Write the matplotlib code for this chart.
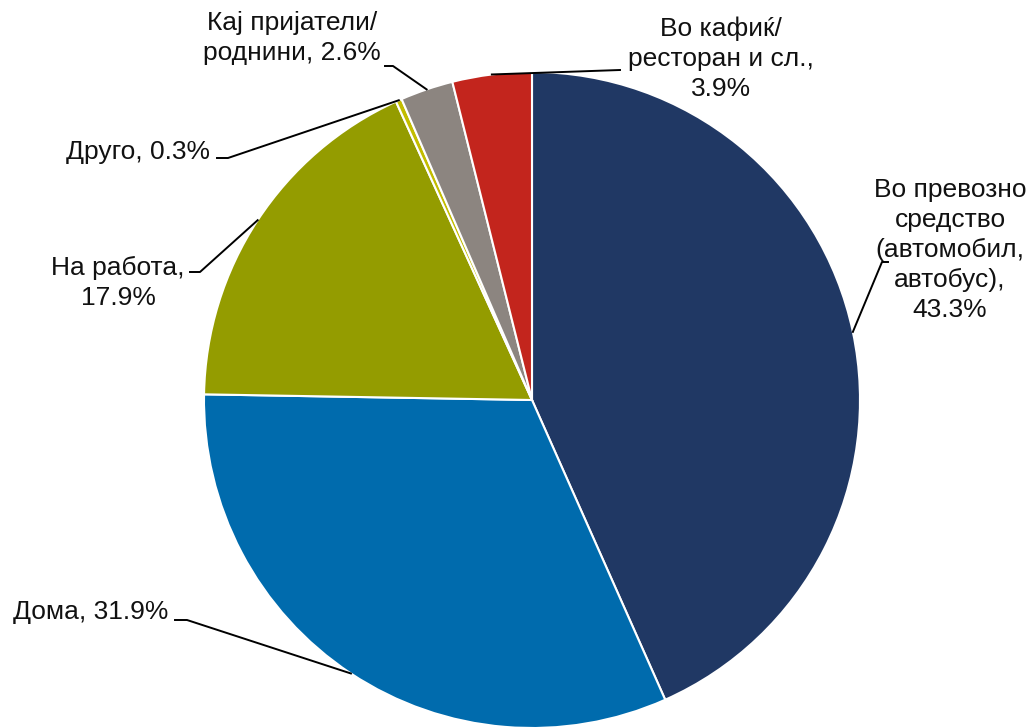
import numpy as np
import matplotlib.pyplot as plt

plt.rcParams['font.family'] = ['Liberation Sans', 'DejaVu Sans']

# податоци
labels = ['Во превозно\nсредство\n(автомобил,\nавтобус),\n43.3%',
          'Дома, 31.9%',
          'На работа,\n17.9%',
          'Друго, 0.3%',
          'Кај пријатели/\nроднини, 2.6%',
          'Во кафиќ/\nресторан и сл.,\n3.9%']
values = [43.3, 31.9, 17.9, 0.3, 2.6, 3.9]
colors = ['#203864', '#006BAD', '#949C00', '#C2BC00', '#8C8580', '#C3251D']

W, H = 1033, 728
fig = plt.figure(figsize=(W / 100, H / 100), dpi=100)
ax = fig.add_axes([0, 0, 1, 1])

cx, cy, r = 532, H - 400, 328
wedges, _ = ax.pie(values, colors=colors, startangle=90, counterclock=False,
                   center=(cx, cy), radius=r,
                   wedgeprops=dict(edgecolor='white', linewidth=1.5))
ax.set_xlim(0, W)
ax.set_ylim(0, H)
ax.set_aspect('equal')
ax.axis('off')

# позиции на етикетите (пиксели): текст, лакт, крај на линијата, порамнување
layout = [
    ((950, 250), (882, 262), (888, 262), 'center'),
    ((168, 612), (187, 620), (175, 620), 'right'),
    ((118, 283), (200, 272), (190, 272), 'center'),
    ((210, 152), (228, 158), (217, 158), 'right'),
    ((292, 38), (393, 66), (385, 66), 'center'),
    ((721, 59), (620, 70), (620, 70), 'center'),
]

for w, lab, (tpos, elbow, end, ha) in zip(wedges, labels, layout):
    ang = np.deg2rad((w.theta1 + w.theta2) / 2)
    ex, ey = cx + r * np.cos(ang), cy + r * np.sin(ang)
    ax.plot([ex, elbow[0], end[0]], [ey, H - elbow[1], H - end[1]],
            color='black', lw=1.4, zorder=5)
    ax.text(tpos[0], H - tpos[1], lab, ha=ha, va='center', fontsize=19,
            multialignment='center', linespacing=1.31, color='#111111')

fig.savefig('out.png', dpi=100)
